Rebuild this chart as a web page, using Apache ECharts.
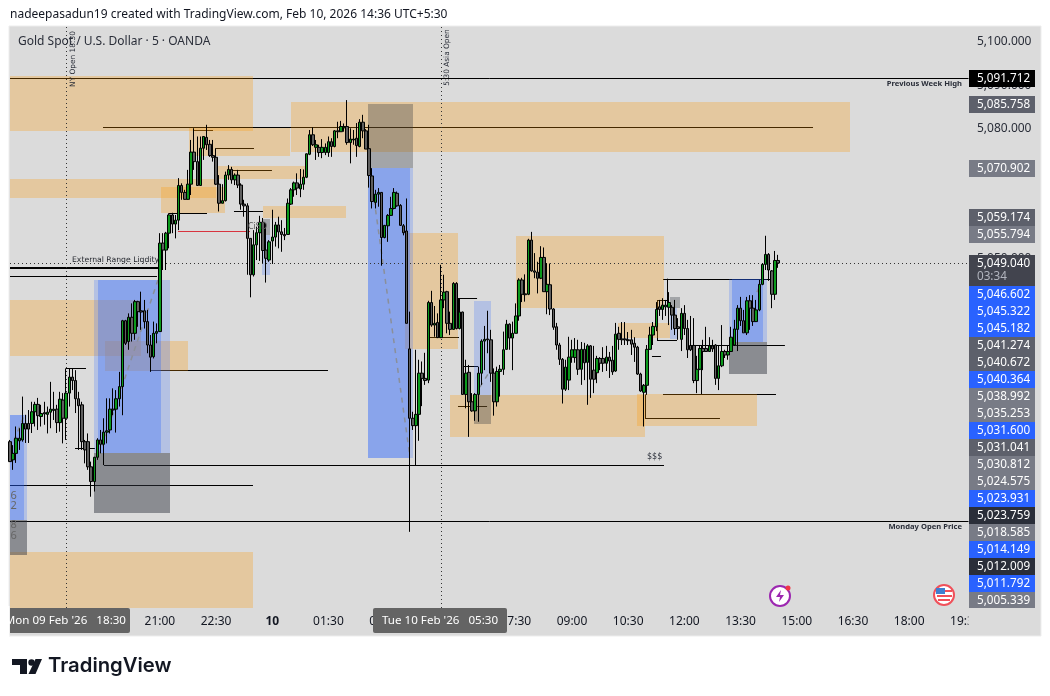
<!DOCTYPE html>
<html><head><meta charset="utf-8">
<style>html,body{margin:0;padding:0;background:#fff}#c{width:1050px;height:696px}</style>
<script src="https://cdn.jsdelivr.net/npm/echarts@6/dist/echarts.min.js"></script>
</head><body><div id="c"></div>
<script>
const opens=[5007.8,5003.6,5005.1,5008.0,5008.2,5012.0,5012.0,5012.0,5014.7,5016.4,
5013.6,5014.5,5014.1,5014.6,5015.0,5015.3,5012.2,5017.4,5013.2,5019.0,
5022.7,5021.9,5017.7,5016.3,5007.8,5007.8,5002.0,4998.6,5004.2,5008.2,
5007.2,5010.0,5010.5,5015.1,5015.3,5017.7,5020.5,5035.7,5030.9,5036.5,
5032.8,5040.1,5038.0,5038.0,5035.5,5030.1,5027.4,5032.8,5033.2,5053.6,
5052.0,5055.9,5060.1,5058.0,5058.9,5066.9,5065.3,5063.7,5067.2,5074.6,
5072.4,5066.9,5075.5,5078.0,5076.4,5073.8,5073.4,5067.2,5062.8,5063.4,
5069.3,5070.6,5068.2,5069.3,5067.0,5062.6,5062.2,5054.7,5046.3,5053.2,
5056.0,5058.4,5052.0,5049.7,5054.1,5055.0,5057.8,5056.2,5055.6,5055.6,
5062.6,5065.9,5067.5,5066.1,5067.2,5068.8,5074.1,5078.6,5075.7,5075.7,
5074.5,5074.5,5074.5,5077.0,5075.9,5079.5,5079.3,5080.2,5080.5,5076.8,
5077.4,5077.8,5075.9,5081.5,5079.5,5075.4,5069.1,5063.0,5064.9,5065.3,
5054.9,5057.6,5060.0,5061.6,5065.1,5062.3,5057.6,5056.4,5029.2,5013.2,
5011.5,5014.1,5023.6,5022.4,5022.0,5039.9,5034.7,5035.3,5031.8,5040.5,
5042.4,5035.1,5033.7,5044.3,5033.9,5037.7,5018.7,5023.8,5017.0,5014.9,
5018.7,5023.6,5031.0,5031.5,5031.3,5023.6,5017.0,5024.0,5024.5,5029.1,
5034.9,5031.7,5032.8,5036.8,5045.1,5041.9,5041.8,5054.3,5047.2,5046.9,
5045.5,5050.3,5042.4,5044.0,5038.4,5034.3,5030.1,5026.8,5019.9,5022.0,
5027.3,5027.2,5029.0,5024.5,5029.1,5026.1,5029.9,5024.3,5023.7,5027.0,
5027.0,5025.9,5027.3,5026.6,5024.1,5032.8,5031.5,5031.5,5031.3,5031.3,
5030.5,5029.6,5023.4,5019.2,5020.8,5029.1,5032.4,5034.3,5038.9,5038.3,
5038.9,5038.8,5038.8,5037.0,5034.3,5031.4,5037.4,5033.9,5030.0,5030.0,
5021.9,5024.5,5029.3,5029.3,5028.6,5029.9,5030.1,5022.4,5025.3,5028.6,
5027.8,5028.6,5030.1,5033.7,5038.6,5035.7,5032.9,5040.3,5038.6,5035.5,
5038.2,5044.1,5048.7,5051.0,5047.2,5041.8,5049.6];
const highs=[5008.2,5007.0,5011.3,5010.9,5018.2,5014.0,5015.1,5017.0,5017.0,5017.9,
5016.3,5017.0,5015.9,5021.6,5019.3,5016.3,5019.3,5019.0,5024.7,5024.7,
5024.7,5024.3,5019.3,5017.0,5008.2,5009.7,5003.2,5004.3,5008.6,5010.5,
5013.2,5017.8,5017.8,5020.1,5019.7,5023.9,5035.9,5035.9,5037.4,5039.7,
5040.5,5040.3,5042.4,5040.5,5038.2,5032.4,5035.5,5035.1,5055.9,5055.9,
5056.2,5060.5,5060.6,5060.1,5068.6,5067.4,5065.9,5070.5,5077.4,5080.1,
5078.2,5078.2,5078.3,5080.9,5077.4,5077.4,5075.5,5069.3,5067.2,5070.1,
5071.6,5071.2,5069.7,5070.5,5067.4,5063.6,5062.8,5054.7,5056.6,5057.4,
5059.9,5059.4,5058.2,5054.3,5061.3,5058.5,5059.7,5058.9,5057.1,5063.9,
5066.3,5067.8,5069.7,5070.7,5070.6,5074.3,5079.7,5080.3,5077.4,5076.3,
5077.6,5076.6,5078.2,5077.8,5079.7,5081.6,5081.8,5081.2,5086.6,5080.1,
5079.7,5081.3,5082.2,5083.2,5079.9,5080.9,5070.9,5065.9,5066.3,5065.4,
5057.8,5060.3,5064.3,5066.3,5065.5,5062.6,5058.0,5063.9,5037.8,5014.7,
5029.0,5026.7,5026.3,5028.3,5040.3,5042.6,5039.1,5037.4,5048.6,5046.3,
5042.6,5037.8,5044.6,5044.6,5040.9,5037.8,5026.7,5025.5,5019.0,5019.0,
5025.1,5031.4,5034.5,5038.0,5033.6,5024.7,5025.1,5025.5,5033.2,5035.9,
5035.1,5035.5,5039.7,5045.5,5045.6,5046.4,5054.6,5056.2,5051.3,5049.3,
5052.9,5052.6,5049.0,5048.9,5038.6,5035.2,5030.6,5027.1,5026.7,5032.0,
5031.3,5031.7,5031.3,5030.8,5030.6,5030.3,5030.1,5029.9,5027.6,5027.3,
5029.6,5029.9,5028.5,5029.9,5035.2,5034.3,5035.4,5035.4,5033.1,5033.6,
5031.9,5029.9,5023.7,5021.1,5030.1,5034.3,5035.4,5040.0,5040.5,5040.9,
5040.5,5042.3,5039.3,5040.5,5036.3,5038.6,5039.3,5035.9,5036.8,5036.3,
5027.6,5030.1,5031.3,5034.3,5031.9,5031.3,5030.3,5029.9,5034.7,5029.0,
5029.9,5034.3,5035.9,5039.3,5041.2,5038.2,5041.2,5041.6,5041.6,5040.5,
5045.1,5049.0,5055.3,5051.3,5047.4,5051.8,5050.9];
const lows=[5003.1,5001.3,5002.9,5005.9,5007.8,5007.5,5007.5,5009.8,5011.3,5010.5,
5011.3,5011.7,5009.7,5010.9,5012.8,5009.8,5010.1,5007.4,5008.2,5015.9,
5019.7,5014.4,5005.9,5005.9,5002.8,5001.3,4995.1,4996.3,5003.6,5005.1,
5002.4,5007.4,5009.7,5013.9,5009.9,5015.9,5013.9,5030.1,5029.0,5030.9,
5031.3,5034.3,5033.6,5033.9,5028.2,5023.9,5027.0,5030.5,5033.1,5047.4,
5047.4,5052.4,5055.9,5054.7,5056.6,5063.6,5063.6,5063.6,5064.7,5070.5,
5066.8,5066.8,5072.8,5075.1,5073.5,5072.4,5067.0,5060.9,5062.8,5063.2,
5068.2,5067.3,5067.0,5066.3,5061.3,5059.7,5046.3,5041.1,5045.9,5049.7,
5049.5,5049.0,5044.5,5049.3,5048.8,5052.8,5052.4,5051.6,5054.3,5055.5,
5062.4,5064.3,5064.7,5064.2,5065.9,5068.6,5073.9,5076.0,5072.8,5073.5,
5073.2,5073.9,5073.5,5073.5,5075.7,5077.8,5079.3,5079.3,5076.3,5072.0,
5076.3,5073.5,5075.7,5077.8,5075.3,5066.4,5061.6,5061.6,5062.0,5048.4,
5054.7,5053.9,5059.9,5061.4,5062.0,5057.6,5055.4,5035.1,4987.0,5010.5,
5002.4,5008.0,5016.0,5020.9,5021.3,5034.3,5032.0,5031.7,5031.7,5038.6,
5032.8,5032.4,5033.6,5033.7,5033.7,5018.6,5015.5,5008.9,5014.7,5012.6,
5012.4,5020.9,5024.3,5028.2,5021.6,5013.8,5015.9,5018.2,5023.2,5029.0,
5029.0,5024.3,5032.8,5035.7,5040.0,5040.1,5041.6,5047.0,5045.5,5042.0,
5045.3,5042.4,5037.2,5037.0,5033.6,5029.0,5025.5,5016.6,5019.5,5019.7,
5026.0,5026.0,5023.2,5020.9,5022.0,5016.3,5017.9,5019.0,5021.3,5024.3,
5023.9,5024.1,5022.5,5023.2,5023.9,5029.0,5030.1,5030.1,5030.1,5027.8,
5026.2,5023.2,5019.3,5011.3,5018.6,5029.0,5030.1,5033.3,5036.8,5035.9,
5036.8,5034.7,5033.6,5032.4,5031.3,5028.7,5032.4,5027.1,5028.7,5021.3,
5019.0,5024.3,5024.3,5028.5,5028.5,5028.5,5020.9,5019.7,5025.0,5027.1,
5026.7,5028.5,5029.9,5028.7,5034.5,5032.9,5032.4,5033.6,5034.5,5035.4,
5037.9,5043.9,5047.4,5044.9,5038.6,5040.5,5047.9];
const closes=[5003.2,5005.1,5008.6,5008.6,5012.0,5010.7,5010.7,5014.7,5016.4,5013.8,
5014.3,5014.2,5014.6,5015.3,5015.3,5012.2,5017.6,5013.2,5019.0,5022.7,
5021.9,5017.7,5016.1,5007.8,5005.9,5002.0,4998.6,5004.2,5008.2,5007.2,
5010.0,5010.3,5015.3,5015.3,5017.7,5020.5,5035.7,5030.5,5036.5,5032.8,
5040.1,5037.8,5037.7,5035.5,5030.1,5027.3,5032.8,5033.2,5053.6,5052.0,
5055.9,5060.1,5058.0,5058.9,5066.9,5065.3,5063.7,5067.2,5074.6,5072.4,
5066.9,5075.5,5078.2,5076.3,5073.8,5073.4,5067.2,5062.8,5063.4,5069.3,
5070.6,5068.2,5069.3,5067.0,5062.6,5062.2,5054.7,5046.3,5053.2,5056.0,
5058.4,5051.9,5050.1,5053.9,5055.0,5057.8,5056.2,5055.6,5055.3,5062.8,
5065.9,5067.5,5066.3,5067.2,5068.8,5074.2,5078.6,5076.3,5076.3,5074.5,
5075.7,5075.7,5077.0,5075.9,5079.5,5079.3,5080.5,5080.5,5076.8,5077.6,
5077.6,5076.1,5081.5,5079.5,5075.3,5069.2,5063.2,5064.9,5065.3,5054.9,
5057.7,5060.0,5061.6,5065.3,5062.2,5057.7,5056.0,5035.1,5013.2,5011.5,
5014.1,5023.6,5022.4,5021.9,5039.9,5034.7,5035.1,5031.8,5040.5,5042.3,
5035.1,5033.7,5044.3,5033.9,5037.7,5018.7,5023.6,5017.0,5014.9,5018.7,
5023.6,5031.0,5031.4,5031.3,5023.6,5017.0,5024.0,5024.5,5029.0,5034.9,
5031.7,5032.8,5036.8,5045.1,5041.8,5041.7,5054.3,5047.2,5046.9,5045.5,
5050.3,5042.4,5044.1,5038.4,5034.2,5030.1,5026.8,5019.9,5025.0,5027.3,
5029.0,5029.0,5024.5,5029.1,5026.0,5029.9,5022.2,5022.2,5027.0,5025.9,
5025.9,5027.3,5026.4,5023.9,5032.6,5031.4,5031.3,5031.3,5031.1,5030.3,
5029.6,5023.4,5019.5,5020.8,5029.1,5032.4,5034.4,5038.3,5038.3,5039.3,
5039.3,5039.9,5037.0,5033.9,5033.9,5037.4,5033.9,5029.0,5029.0,5021.9,
5024.5,5029.3,5028.6,5028.6,5029.9,5029.2,5022.4,5025.3,5028.6,5027.8,
5028.6,5031.9,5033.8,5038.6,5035.7,5032.9,5040.3,5038.6,5035.5,5038.2,
5044.1,5048.7,5051.0,5047.4,5041.8,5049.6,5049.0];

const BAR_COUNT=308;
const xTickBars=[18,48,66,84,102,120,138,162,180,198,216,234,252,270,288,306];
const xTickLabels=["18:30","21:00","22:30","10","01:30","04:00","05:30","07:30","09:00","10:30","12:00","13:30","15:00","16:30","18:00","19:30"];
const yTicks=[5100,5090,5080,5070,5060,5050,5040,5030,5020,5010,5000,4990,4980];
const lastPrice=5049.04;
const sessionBars=[18,138];

// [startBar, topPrice, endBar, bottomPrice]
const supplyZones=[[0,5092.2,77.83,5079.5],[0,5068.4,65.98,5064.0],[48.36,5066.6,68.86,5060.6],[57.33,5080.2,89.68,5073.7],
[66.62,5071.4,94.48,5068.4],[81.03,5062.2,107.62,5059.4],[90,5086.2,269.04,5074.6],[0,5040.5,41.96,5027.6],
[30.43,5031.0,57.01,5024.0],[126.51,5055.9,143.49,5029.2],[162.07,5055.3,209.47,5038.6],[140.93,5018.6,203.38,5008.9],
[200.82,5018.9,239.25,5011.4],[194.73,5035.2,211.39,5031.7],[0,4982.4,77.83,4969.0]];
const targetOuter=[[0,5014.0,5.44,4989.7],[26.9,5045.1,51.25,5005.2],[114.66,5070.9,129.07,5004.0],[148.6,5040.3,154.05,5018.6],
[80.71,5055.5,83.28,5046.3],[211.39,5038.6,213.63,5031.5],[230.29,5045.3,242.46,5030.8]];
const targetInner=[[0,5014.0,4.48,4989.7],[28.19,5045.1,48.36,5005.2],[114.66,5070.9,128.11,5004.0],[231.25,5045.3,241.18,5030.8]];
const stopZones=[[0,4989.7,5.44,4981.7],[26.9,5005.2,51.25,4991.4],[230.29,5030.8,242.46,5023.4]];
const stopZonesLight=[[114.66,5085.7,129.07,5070.9],[148.6,5018.6,154.05,5011.9],[80.71,5059.2,83.28,5055.5],[211.39,5041.2,214.6,5038.6]];

// [bar1, price1, bar2, price2]
const levelLines=[[0,5091.7,307,5091.7],[29.79,5080.5,257.2,5080.5],[58.93,5079.7,65.02,5079.7],[65.98,5075.5,78.15,5075.5],
[69.5,5070.5,83.9,5070.5],[71.74,5061.0,81.03,5061.0],[50.93,5060.5,63.1,5060.5],[0,5046.0,47.08,5046.0],
[17.94,5024.7,24.34,5024.7],[44.84,5024.3,101.85,5024.3],[20.82,5006.3,27.22,5006.3],[30.11,5002.5,209.47,5002.5],
[0,4997.7,77.83,4997.7],[0,4989.5,307,4989.5],[134.5,5031.9,143.8,5031.9],[143.49,5040.9,149.6,5040.9],[143.49,5040.9,143.49,5034.0],
[145.09,5025.2,149.9,5025.2],[143.49,5016.0,152.8,5016.0],[209.15,5045.4,244.06,5045.4],[210.43,5045.4,210.43,5039.8],
[207.23,5040.4,210.75,5040.4],[207.23,5031.2,213.63,5031.2],[207.23,5040.4,207.23,5031.2],[205.62,5027.5,208.5,5027.5],
[217.8,5030.0,248.2,5030.0],[209.15,5018.7,245.34,5018.7],[221.32,5030.0,221.32,5018.7],[203.38,5013.2,227.4,5013.2],[203.38,5018.7,203.38,5013.2]];
const thickLines=[[0,5047.9,47.4,5047.9]];
const redLines=[[53.81,5056.3,76.87,5056.3]];
const pathLines=[[0,5005.9,4.48,5013.7],[28.5,5004.7,47.4,5045.1],[115.3,5070.5,128.1,5004.3],[150.5,5020.4,153.1,5023.4],[239.25,5042.3,240.85,5044.9]];

const tagTexts=["5,091.712","5,085.758","5,070.902","5,059.174","5,055.794","5,049.040","5,046.602","5,045.322","5,045.182","5,041.274","5,040.672","5,040.364","5,038.992","5,035.253","5,031.600","5,031.041","5,030.812","5,024.575","5,023.931","5,023.759","5,018.585","5,014.149","5,012.009","5,011.792","5,005.339"];
const tagKinds=["black","slate","grey","slate","grey","last","blue","blue","blue","slate","slate","blue","grey","grey","blue","slate","grey","grey","blue","ink","grey","blue","ink","blue","grey"];

/* ---- layout & style ---- */
const kindColor={black:"#000000",slate:"#5d606b",grey:"#787b86",last:"#42444e",blue:"#2962ff",ink:"#2a2e39"};
const tagTops=[70,96,160,209,226,255,286,303,320,337,354,371,388,405,422,439,456,473,490,507,524,541,558,575,592];
const UI='"Noto Sans",sans-serif';
const barTimes=[];
for(let i=0,m=17*60;i<BAR_COUNT;i++){ if(i===114)m+=60; const t=m%1440; barTimes.push(String(Math.floor(t/60)).padStart(2,"0")+":"+String(t%60).padStart(2,"0")); m+=5; }
const tickMap={}; xTickBars.forEach((b,k)=>tickMap[b]=xTickLabels[k]);
const priceMin=4969.43, priceMax=5103.46;

function pt(api,bar,price){
  const b=Math.min(Math.floor(bar),BAR_COUNT-2), a=api.coord([b,price]), c=api.coord([b+1,price]);
  return [a[0]+(c[0]-a[0])*(bar-b),a[1]];
}
function rectSeries(list,fill,z){
  return {type:"custom",coordinateSystem:"cartesian2d",silent:true,clip:true,z,animation:false,
    data:list.map(r=>[Math.round(r[0]),r[1]]),encode:{x:0,y:1},
    renderItem(p,api){const r=list[p.dataIndex],a=pt(api,r[0],r[1]),b=pt(api,r[2],r[3]);
      return {type:"rect",shape:{x:Math.round(a[0]),y:Math.round(a[1]),width:Math.round(b[0])-Math.round(a[0]),height:Math.round(b[1])-Math.round(a[1])},style:{fill}};}};
}
function lineSeries(list,stroke,width,dash,z){
  return {type:"custom",coordinateSystem:"cartesian2d",silent:true,clip:true,z,animation:false,
    data:list.map(r=>[Math.round(r[0]),r[1]]),encode:{x:0,y:1},
    renderItem(p,api){const r=list[p.dataIndex];let a=pt(api,r[0],r[1]),b=pt(api,r[2],r[3]);
      const off=width%2?0.5:0;
      if(r[1]===r[3]){a=[a[0],Math.round(a[1])+off];b=[b[0],a[1]];}
      if(r[0]===r[2]){a=[Math.round(a[0])+off,a[1]];b=[a[0],b[1]];}
      return {type:"line",shape:{x1:a[0],y1:a[1],x2:b[0],y2:b[1]},style:{stroke,lineWidth:width,lineDash:dash||null,fill:null}};}};
}
const priceDotted=[[0,lastPrice,307,lastPrice]];
const sessionLines=sessionBars.map(b=>[b,priceMax,b,priceMin]);

const smallText=(x,y,text,opt={})=>({type:"text",x,y,z:60,silent:true,rotation:opt.rot||0,
  style:{text,fill:opt.fill||"#2a2e39",font:(opt.weight||"normal")+" "+(opt.size||8)+"px "+(opt.family||'"DejaVu Sans",sans-serif'),textAlign:opt.align||"left",textVerticalAlign:"middle"}});

const g=[];
g.push({type:"rect",z:-10,silent:true,shape:{x:9,y:26,width:1032,height:610},style:{fill:"#dbdbdb",stroke:"#ededed",lineWidth:1}});
// cover strip for axis labels beyond the plot
g.push({type:"rect",z:50,silent:true,shape:{x:968.5,y:609,width:70,height:25},style:{fill:"#dbdbdb"}});
tagTexts.forEach((t,k)=>{
  const top=tagTops[k],h=(k===5?31:(k===tagTops.length-1?16:17));
  g.push({type:"rect",z:70,silent:true,shape:{x:969,y:top,width:66,height:h},style:{fill:kindColor[tagKinds[k]]}});
  g.push({type:"text",z:71,silent:true,x:977,y:top+8.5,style:{text:t,fill:"#ffffff",font:"11.7px "+UI,textVerticalAlign:"middle"}});
});
g.push({type:"text",z:71,silent:true,x:977,y:277,style:{text:"03:34",fill:"#b2b5be",font:"11.7px "+UI,textVerticalAlign:"middle"}});
// time pills
g.push({type:"rect",z:80,silent:true,shape:{x:10,y:608,width:120,height:25,r:[0,2,2,0]},style:{fill:"#646464"}});
g.push({type:"text",z:81,silent:true,x:126,y:621,style:{text:"Mon 09 Feb '26   18:30",fill:"#fff",font:"11.6px "+UI,textAlign:"right",textVerticalAlign:"middle"}});
g.push({type:"rect",z:82,silent:true,shape:{x:0,y:606,width:9.5,height:30},style:{fill:"#ffffff"}});
g.push({type:"rect",z:80,silent:true,shape:{x:373,y:608,width:134,height:25,r:2},style:{fill:"#646464"}});
g.push({type:"text",z:81,silent:true,x:382,y:621,style:{text:"Tue 10 Feb '26   05:30",fill:"#fff",font:"11.6px "+UI,textVerticalAlign:"middle"}});
// header
g.push(smallText(10,15,"nadeepasadun19 created with TradingView.com, Feb 10, 2026 14:36 UTC+5:30",{size:12,fill:"#131722",family:UI}));
g.push(smallText(18,42,"Gold Spot / U.S. Dollar · 5 · OANDA",{size:12,fill:"#2a2e39",family:UI}));
// chart notes
g.push(smallText(73,59,"NY Open 18:30",{rot:Math.PI/2,align:"center",size:7.4}));
g.push(smallText(447,57.5,"5:30 Asia Open",{rot:Math.PI/2,align:"center",size:7.4}));
g.push(smallText(962,84,"Previous Week High",{align:"right",size:7.6,weight:"bold",family:UI}));
g.push(smallText(962,527,"Monday Open Price",{align:"right",size:7.6,weight:"bold",family:UI}));
g.push(smallText(72,260,"External Range Liqdity",{size:7.7,fill:"#1f2229"}));
g.push(smallText(647,457,"$$$",{size:8}));
g.push(smallText(248,227,"CiSD",{size:8,fill:"#555"}));
[["6",496],["2",506],["8",525],["6",536]].forEach(a=>g.push(smallText(10.5,a[1],a[0],{size:11,fill:"#666",family:UI})));
// icons
g.push({type:"circle",z:60,silent:true,shape:{cx:780,cy:596,r:10},style:{fill:"#fff",stroke:"#9c27b0",lineWidth:2}});
g.push({type:"polygon",z:61,silent:true,shape:{points:[[781,590],[776,597],[780,597],[779,602],[784,595],[780,595]]},style:{fill:"#9c27b0"}});
g.push({type:"circle",z:62,silent:true,shape:{cx:788,cy:588,r:2.5},style:{fill:"#f23645"}});
g.push({type:"circle",z:60,silent:true,shape:{cx:944,cy:595,r:10},style:{fill:"#fff",stroke:"#f0505a",lineWidth:2}});
g.push({type:"rect",z:61,silent:true,shape:{x:936,y:588,width:9,height:6},style:{fill:"#3f7fd0"}});
g.push({type:"rect",z:61,silent:true,shape:{x:945,y:590,width:7,height:2},style:{fill:"#f0505a"}});
g.push({type:"rect",z:61,silent:true,shape:{x:937,y:595,width:15,height:2},style:{fill:"#f0505a"}});
g.push({type:"rect",z:61,silent:true,shape:{x:938,y:599,width:12,height:2},style:{fill:"#f0505a"}});
// logo
g.push({type:"polygon",z:60,silent:true,shape:{points:[[12,659],[27,659],[27,674],[20,674],[20,665],[12,665]]},style:{fill:"#131722"}});
g.push({type:"circle",z:60,silent:true,shape:{cx:31.5,cy:662.5,r:3.2},style:{fill:"#131722"}});
g.push({type:"polygon",z:60,silent:true,shape:{points:[[35.5,659],[42,659],[35.5,674],[28.5,674]]},style:{fill:"#131722"}});
g.push(smallText(48,666,"TradingView",{size:20.3,weight:"600",fill:"#131722",family:'Inter,sans-serif'}));

const chart=echarts.init(document.getElementById("c"),null,{renderer:"canvas"});
chart.setOption({
  animation:false,backgroundColor:"#ffffff",
  grid:{left:10,right:81.5,top:27,bottom:88,containLabel:false},
  xAxis:{type:"category",data:barTimes,boundaryGap:false,axisLine:{show:false},axisTick:{show:false},splitLine:{show:false},
    axisLabel:{margin:8,color:"#131722",fontSize:12,fontFamily:"Noto Sans",showMinLabel:true,showMaxLabel:true,hideOverlap:false,
      interval:(i)=>tickMap[i]!==undefined,
      formatter:(v,i)=>{const t=tickMap[i];return t==="10"?"{b|10}":(t||"");},
      rich:{b:{fontWeight:"bold",fontSize:12,color:"#131722",fontFamily:"Noto Sans"}}}},
  yAxis:{type:"value",position:"right",min:priceMin,max:priceMax,scale:true,axisLine:{show:false},axisTick:{show:false},splitLine:{show:false},
    axisLabel:{customValues:yTicks,margin:8.5,color:"#2a2e39",fontSize:12,fontFamily:"Noto Sans",showMinLabel:true,showMaxLabel:true,hideOverlap:false,
      formatter:v=>v.toLocaleString("en-US",{minimumFractionDigits:3,maximumFractionDigits:3})}},
  graphic:{elements:g},
  series:[
    lineSeries(levelLines,"#000000",1,null,1),
    lineSeries(thickLines,"#000000",2,null,1),
    lineSeries(redLines,"#d8343f",1,null,1),
    rectSeries(supplyZones,"rgba(255,152,0,0.27)",2),
    rectSeries(targetOuter,"rgba(41,98,255,0.22)",2),
    rectSeries(targetInner,"rgba(41,98,255,0.30)",2),
    rectSeries(stopZones,"rgba(50,55,65,0.48)",2),
    rectSeries(stopZonesLight,"rgba(50,55,65,0.33)",2),
    lineSeries(pathLines,"#8a8f9a",1.5,[5,5],2),
    lineSeries(priceDotted,"#333333",1,[1,3],2),
    lineSeries(sessionLines,"#333333",1,[1,3],2),
    {type:"candlestick",z:3,barWidth:3,silent:true,clip:true,animation:false,
      data:opens.map((o,i)=>[o,closes[i],lows[i],highs[i]]),
      itemStyle:{color:"#0b9a1c",color0:"#5f5f5f",borderColor:"#000000",borderColor0:"#000000",borderWidth:1}}
  ]
});
</script></body></html>
